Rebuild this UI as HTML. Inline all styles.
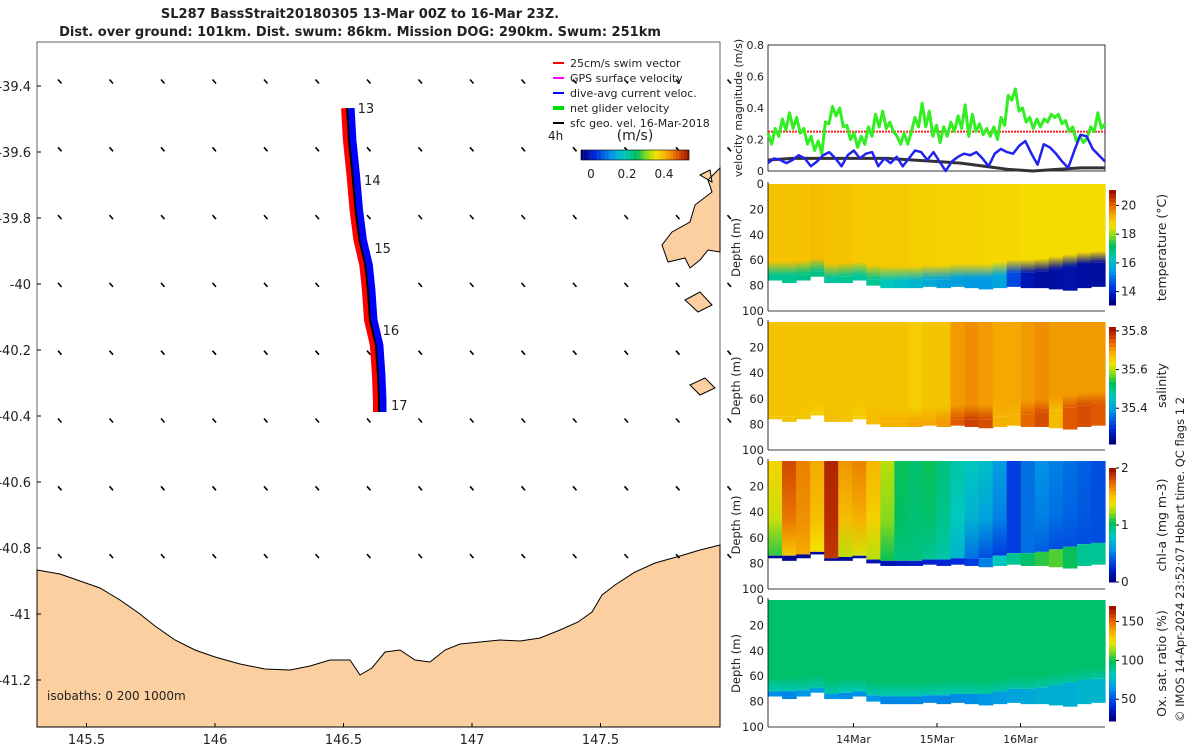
<!DOCTYPE html>
<html><head><meta charset="utf-8"><style>
body{margin:0;background:#fff;width:1200px;height:750px;overflow:hidden;font-family:"Liberation Sans",sans-serif}
svg text{font-family:"DejaVu Sans","Liberation Sans",sans-serif;fill:#222}
</style></head><body>
<svg id="s" width="1200" height="750" viewBox="0 0 1200 750">
<text x="360" y="18" text-anchor="middle" font-size="13" font-weight="bold">SL287 BassStrait20180305 13-Mar 00Z to 16-Mar 23Z.</text>
<text x="360" y="36" text-anchor="middle" font-size="13" font-weight="bold">Dist. over ground: 101km. Dist. swum: 86km. Mission DOG: 290km. Swum: 251km</text>
<g id="map"></g>
<g id="vel"></g>
<g id="heat"></g>
<text transform="translate(1184,722) rotate(-90)" font-size="11.5">© IMOS 14-Apr-2024 23:52:07 Hobart time. QC flags 1  2</text>
</svg>
<script>
// ---------- data ----------
const latTicks=[-39.4,-39.6,-39.8,-40,-40.2,-40.4,-40.6,-40.8,-41,-41.2];
const lonTicks=[145.5,146,146.5,147,147.5];
const trackLon=[146.514,146.521,146.535,146.547,146.562,146.585,146.595,146.603,146.626,146.634,146.638,146.638];
const trackLat=[-39.467,-39.564,-39.670,-39.776,-39.867,-39.943,-40.018,-40.109,-40.185,-40.276,-40.352,-40.388];
const dayLabels=["13","14","15","16","17"];
const dayLon=[146.555,146.58,146.62,146.652,146.685];
const dayLat=[-39.467,-39.685,-39.891,-40.139,-40.367];
const greenV=[0.24,0.17,0.27,0.22,0.33,0.26,0.37,0.27,0.34,0.24,0.27,0.17,0.22,0.13,0.19,0.11,0.31,0.30,0.41,0.35,0.40,0.28,0.29,0.20,0.24,0.15,0.22,0.17,0.28,0.22,0.36,0.28,0.38,0.27,0.31,0.25,0.22,0.17,0.24,0.17,0.25,0.34,0.28,0.43,0.28,0.38,0.22,0.29,0.18,0.28,0.22,0.31,0.25,0.35,0.27,0.42,0.22,0.36,0.25,0.30,0.23,0.27,0.22,0.28,0.20,0.34,0.29,0.48,0.45,0.52,0.38,0.40,0.31,0.34,0.27,0.33,0.28,0.33,0.31,0.36,0.34,0.36,0.30,0.32,0.25,0.28,0.19,0.22,0.18,0.21,0.28,0.25,0.37,0.27,0.30];
const blueV=[0.05,0.08,0.07,0.05,0.07,0.10,0.08,0.03,0.06,0.10,0.12,0.08,0.03,0.10,0.13,0.08,0.11,0.12,0.03,0.08,0.05,0.09,0.03,0.08,0.13,0.12,0.07,0.12,0.06,0.0,0.06,0.09,0.11,0.10,0.12,0.08,0.03,0.11,0.14,0.12,0.11,0.16,0.19,0.11,0.04,0.17,0.15,0.11,0.06,0.02,0.13,0.23,0.22,0.14,0.10,0.06];
const blackV=[0.07,0.08,0.08,0.08,0.08,0.08,0.07,0.06,0.05,0.03,0.01,0.0,0.01,0.02,0.02];
const swimV=0.25;
const velTicks=[0,0.2,0.4,0.6,0.8];
const dateLabels=["14Mar","15Mar","16Mar"];
const dateDays=[1,2,3];
// section data per column (24 columns across 4 days)
const bottomDepth=[76,78,76,73,78,78,76,80,82,82,82,81,82,81,82,83,82,81,82,82,83,84,82,81];
const layerDepth=[72,72,71,69,74,73,72,75,76,76,76,75,75,74,74,74,72,70,70,69,67,65,63,62];
const tempSurf=[19.1,19.1,19.1,19.2,19.1,19.1,19.0,19.0,19.0,19.0,18.95,18.95,18.9,18.9,18.9,18.85,18.8,18.8,18.75,18.75,18.75,18.75,18.75,18.75];
const tempDeep=[16.7,16.7,16.8,16.8,16.6,16.7,16.6,16.7,16.3,16.1,15.9,15.7,15.5,15.5,15.4,15.4,15.6,14.4,13.6,13.4,13.4,13.5,13.4,13.4];
const salSurf=[35.67,35.67,35.67,35.67,35.67,35.67,35.67,35.67,35.67,35.67,35.66,35.67,35.67,35.71,35.72,35.71,35.70,35.70,35.71,35.72,35.71,35.71,35.71,35.71];
const salDeep=[35.67,35.67,35.67,35.66,35.68,35.67,35.66,35.68,35.69,35.69,35.70,35.70,35.71,35.76,35.78,35.77,35.69,35.69,35.75,35.77,35.68,35.76,35.77,35.76];
const chlSurf=[1.45,1.85,1.7,1.6,1.95,1.65,1.7,1.55,1.3,1.05,1.0,1.05,0.95,0.85,0.8,0.75,0.6,0.3,0.45,0.55,0.5,0.45,0.4,0.35];
const chlDeep=[1.1,1.5,1.6,1.4,1.9,1.3,1.35,1.3,1.05,0.95,0.95,0.9,0.85,0.7,0.45,0.35,0.3,0.3,0.45,0.4,0.35,0.35,0.35,0.35];
const chlBottom=[0.05,0.05,0.05,0.05,0.05,0.08,0.1,0.12,0.12,0.15,0.18,0.2,0.22,0.25,0.3,0.5,0.8,0.9,1.0,1.1,1.15,1.05,0.9,0.9];
const oxSurf=[96,96,96,96,96,96,96,96,96,96,96,96,96,96,96,96,96,96,96,96,96,96,96,96];
const oxDeep=[82,82,84,86,84,82,82,84,82,82,82,83,82,83,84,85,86,86,86,86,86,86,86,86];
const oxBottom=[62,60,64,66,64,62,62,64,60,60,60,61,60,61,62,64,66,68,70,72,72,72,74,74];
// ---------- helpers ----------
const S=document.getElementById('s'),NS='http://www.w3.org/2000/svg';
function mk(p,tag,a){const e=document.createElementNS(NS,tag);for(const k in a)e.setAttribute(k,a[k]);p.appendChild(e);return e;}
const CM=[[0,0,0,130],[0.12,0,40,220],[0.28,0,150,230],[0.4,0,200,190],[0.52,0,190,90],[0.62,150,220,20],[0.7,245,225,0],[0.8,245,170,0],[0.9,225,90,0],[1,160,20,0]];
function jet(t){t=Math.max(0,Math.min(1,t));for(let i=1;i<CM.length;i++){if(t<=CM[i][0]){const a=CM[i-1],b=CM[i],f=(t-a[0])/(b[0]-a[0]);return `rgb(${Math.round(a[1]+f*(b[1]-a[1]))},${Math.round(a[2]+f*(b[2]-a[2]))},${Math.round(a[3]+f*(b[3]-a[3]))})`;}}return 'rgb(160,20,0)';}
// ---------- map ----------
const M=document.getElementById('map');
const mx=lon=>215+(lon-146)*257, my=lat=>86+(-39.4-lat)*330;
let t;
const land=mk(M,'path',{d:"M37,570 L60,574 L80,581 L100,588 L120,600 L140,614 L155,626 L175,640 L195,650 L215,657 L240,664 L265,669 L290,670 L310,666 L330,660 L350,660 L360,675 L372,668 L385,652 L400,650 L415,660 L430,662 L445,650 L460,644 L480,642 L500,640 L520,641 L540,638 L560,630 L578,622 L592,612 L602,595 L615,585 L635,572 L655,563 L680,556 L700,550 L720,545 L720,727 L37,727 Z",fill:"#fbcf9f",stroke:"#000","stroke-width":1});


const isl=mk(M,'path',{d:"M720,168 L708,180 L712,192 L695,205 L690,222 L672,232 L662,245 L668,262 L685,258 L690,268 L700,260 L708,250 L720,252 Z M685,300 L700,292 L712,305 L698,312 Z M690,385 L705,378 L715,388 L700,395 Z M700,175 L710,170 L712,182 Z",fill:"#fbcf9f",stroke:"#000","stroke-width":1});


mk(M,'rect',{x:37,y:42,width:683,height:685,fill:"none",stroke:"#000","stroke-width":0.6});
// vectors
for(let i=0;i<14;i++)for(let j=0;j<10;j++){const x=60+i*51.5,y=82+j*67.8;if(y>560)continue;
const a=mk(M,'line',{x1:x-2,y1:y-2.5,x2:x+1.5,y2:y+1.5,stroke:"#000","stroke-width":1.6});}
latTicks.forEach(v=>{mk(M,'line',{x1:37,x2:41,y1:my(v),y2:my(v),stroke:"#000"});t=mk(M,'text',{x:31,y:my(v)+5,"text-anchor":"end","font-size":13});t.textContent=v;});
lonTicks.forEach(v=>{mk(M,'line',{x1:mx(v),x2:mx(v),y1:727,y2:723,stroke:"#000"});t=mk(M,'text',{x:mx(v),y:744,"text-anchor":"middle","font-size":13});t.textContent=v;});
const pts=trackLon.map((l,i)=>[mx(l),my(trackLat[i])]);
const pl=(dx,c,w)=>{const p=mk(M,'polyline',{points:pts.map(p=>(p[0]+dx)+','+p[1]).join(' '),fill:"none",stroke:c,"stroke-width":w,"stroke-linejoin":"round"});return p;};
let p=pl(4,"#0000ff",7);
p=pl(-3,"#ff0000",6);
p=pl(0,"#000",2);
dayLabels.forEach((d,i)=>{t=mk(M,'text',{x:mx(dayLon[i]),y:my(dayLat[i])+5,"font-size":13});t.textContent=d;});
const leg=[["#ff0000","25cm/s swim vector"],["#ff00ff","GPS surface velocity"],["#0000ff","dive-avg current veloc."],["#00dd00","net glider velocity"],["#000","sfc geo. vel. 16-Mar-2018"]];
leg.forEach((l,i)=>{const y=63+i*15;mk(M,'line',{x1:553,y1:y,x2:564,y2:y,stroke:l[0],"stroke-width":i==3?4:2});t=mk(M,'text',{x:570,y:y+4,"font-size":11});t.textContent=l[1];});
t=mk(M,'text',{x:548,y:140,"font-size":12});t.textContent="4h";
t=mk(M,'text',{x:635,y:140,"font-size":14,"text-anchor":"middle"});t.textContent="(m/s)";
for(let k=0;k<40;k++)mk(M,'rect',{x:581+k*2.7,y:150,width:2.8,height:10,fill:jet(k/39)});
mk(M,'rect',{x:581,y:150,width:108,height:10,fill:"none",stroke:"#000","stroke-width":0.6});
[["0",591],["0.2",627],["0.4",664]].forEach(a=>{t=mk(M,'text',{x:a[1],y:178,"font-size":12,"text-anchor":"middle"});t.textContent=a[0];});
t=mk(M,'text',{x:47,y:700,"font-size":12});t.textContent="isobaths: 0   200  1000m";
// ---------- velocity ----------
const V=document.getElementById('vel');
const X0=770,DX=83.5,xd=d=>X0+d*DX;
const vy=v=>171-v*157.5;
mk(V,'rect',{x:768,y:45,width:337,height:126,fill:"none",stroke:"#000","stroke-width":0.8});
velTicks.forEach(v=>{t=mk(V,'text',{x:764,y:vy(v)+4,"text-anchor":"end","font-size":11});t.textContent=v;});
t=mk(V,'text',{transform:"translate(742,108) rotate(-90)","text-anchor":"middle","font-size":11});t.textContent="velocity magnitude (m/s)";
const ser=(arr,c,w,nm)=>{const n=arr.length;const e=mk(V,'polyline',{points:arr.map((v,i)=>(768+i*337/(n-1))+','+vy(v)).join(' '),fill:"none",stroke:c,"stroke-width":w,"stroke-linejoin":"round"});};
const sw=mk(V,'line',{x1:768,x2:1105,y1:vy(swimV),y2:vy(swimV),stroke:"#ff2020","stroke-width":2,"stroke-dasharray":"2,1"});
ser(blackV,"#333",3,'geo-velocity-line');ser(greenV,"#33ee22",3,'net-velocity-line');ser(blueV,"#2222ee",2.5,'current-velocity-line');
// ---------- sections ----------
const H=document.getElementById('heat');
const panels=[
 {top:184,bot:311,cb:[190,305],lo:13.07,hi:21.07,ticks:[14,16,18,20],label:"temperature (°C)",surf:tempSurf,deep:tempDeep,botv:null,nm:'temperature',lx:1166},
 {top:322,bot:450,cb:[327,444],lo:35.215,hi:35.82,ticks:[35.4,35.6,35.8],label:"salinity",surf:salSurf,deep:salDeep,botv:null,nm:'salinity',lx:1166},
 {top:461,bot:589,cb:[468,582],lo:0,hi:2,ticks:[0,1,2],label:"chl-a (mg m-3)",surf:chlSurf,deep:chlDeep,botv:chlBottom,nm:'chlorophyll',lx:1166},
 {top:600,bot:727,cb:[606,721],lo:22,hi:170,ticks:[50,100,150],label:"Ox. sat. ratio (%)",surf:oxSurf,deep:oxDeep,botv:oxBottom,nm:'oxygen',lx:1166}];
const n=bottomDepth.length,cw=(1105-768)/n;
panels.forEach((P,pi)=>{
 const dy=d=>P.top+d*(P.bot-P.top)/100, c=v=>jet((v-P.lo)/(P.hi-P.lo));
 const defs=mk(H,'defs',{});
 for(let i=0;i<n;i++){
  const x=768+i*cw,id='g'+pi+'_'+i;
  const g=mk(defs,'linearGradient',{id:id,x1:0,y1:0,x2:0,y2:1});
  const ch=pi==2;
  mk(g,'stop',{offset:0,"stop-color":c(P.surf[i])});
  mk(g,'stop',{offset:ch?0.6:0.85,"stop-color":c(ch?(P.surf[i]*2+P.deep[i])/3:P.surf[i])});
  mk(g,'stop',{offset:1,"stop-color":c(P.deep[i])});
  const ld=pi==0||pi==3?layerDepth[i]:layerDepth[i]+2;
  let r=mk(H,'rect',{x:x,y:dy(0),width:cw+0.6,height:dy(ld)-dy(0),fill:`url(#${id})`});
  
  const bv=P.botv?P.botv[i]:P.deep[i];
  r=mk(H,'rect',{x:x,y:dy(ld),width:cw+0.6,height:dy(bottomDepth[i])-dy(ld),fill:c(bv)});
  
 }
 mk(H,'path',{d:`M768,${P.bot} V${P.top-2} M768,${P.bot} H1105`,stroke:"#000","stroke-width":0.8,fill:"none"});
 [0,20,40,60,80,100].forEach(d=>{t=mk(H,'text',{x:764,y:dy(d)+4,"text-anchor":"end","font-size":11.5});t.textContent=d;});
 t=mk(H,'text',{transform:`translate(740,${(P.top+P.bot)/2}) rotate(-90)`,"text-anchor":"middle","font-size":11.5});t.textContent="Depth (m)";
 const cby=v=>P.cb[1]-(v-P.lo)/(P.hi-P.lo)*(P.cb[1]-P.cb[0]);
 for(let k=0;k<30;k++){const y0=P.cb[1]-(k+1)*(P.cb[1]-P.cb[0])/30;mk(H,'rect',{x:1109,y:y0,width:7,height:(P.cb[1]-P.cb[0])/30+0.5,fill:jet(k/29)});}
 P.ticks.forEach(v=>{mk(H,'line',{x1:1116,x2:1119,y1:cby(v),y2:cby(v),stroke:"#000"});t=mk(H,'text',{x:1121,y:cby(v)+4,"font-size":12});t.textContent=v;});
 t=mk(H,'text',{transform:`translate(${P.lx},${(P.cb[0]+P.cb[1])/2}) rotate(-90)`,"text-anchor":"middle","font-size":12.5});t.textContent=P.label;
});
dateLabels.forEach((d,i)=>{mk(H,'line',{x1:xd(dateDays[i]),x2:xd(dateDays[i]),y1:727,y2:723,stroke:"#000"});t=mk(H,'text',{x:xd(dateDays[i]),y:743,"text-anchor":"middle","font-size":11});t.textContent=d;});
</script>
</body></html>
